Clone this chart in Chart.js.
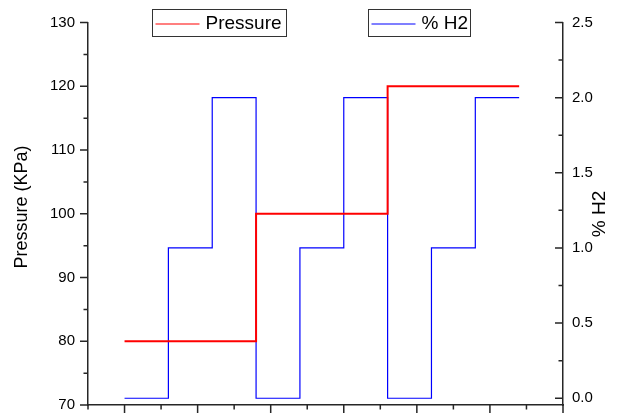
<!DOCTYPE html>
<html lang="en">
<head>
<meta charset="UTF-8">
<title>Pressure and % H2</title>
<script src="https://cdn.jsdelivr.net/npm/chart.js@4.4.1/dist/chart.umd.min.js"></script>
<style>
  html, body { margin: 0; padding: 0; background: #ffffff; }
  #wrap { width: 619px; height: 413px; }
</style>
<script>
  // H2 switching times and levels (step series)
  const times = [1.0, 1.6, 2.2, 2.8, 3.4, 4.0, 4.6, 5.2, 5.8, 6.4];
  const h2 = [0, 1, 2, 0, 1, 2, 0, 1, 2, 2];

  // pressure changes
  const pressureTimes = [1.0, 2.8, 4.6, 6.4];
  const pressure = [80, 100, 120, 120];

  // major and minor ticks of the three axes
  const xTicks = [1, 2, 3, 4, 5, 6, 7];
  const xMinor = [0.5, 1.5, 2.5, 3.5, 4.5, 5.5, 6.5];
  const pressureTicks = [70, 80, 90, 100, 110, 120, 130];
  const pressureMinor = [75, 85, 95, 105, 115, 125];
  const h2Ticks = [0, 0.5, 1.0, 1.5, 2.0, 2.5];
  const h2Minor = [0.25, 0.75, 1.25, 1.75, 2.25];

  const FONT = "'Liberation Sans', Arial, sans-serif";
  const AXIS_COLOR = '#262626';
  const MAJOR = 8;
  const MINOR = 4.5;

  // the y scales must not push the plot up for their end labels
  function fitY(width) {
    return s => {
      s.width = width;
      s.paddingTop = 0;
      s.paddingBottom = 0;
    };
  }

  // tick marks (left/bottom outward, right inward), axis titles and the framed legend
  const extras = {
    id: 'extras',
    afterDraw(chart) {
      const ctx = chart.ctx;
      const area = chart.chartArea;
      const sx = chart.scales.x;
      const sp = chart.scales.yP;
      const sh = chart.scales.yH;

      ctx.save();
      ctx.strokeStyle = AXIS_COLOR;
      ctx.lineWidth = 1.5;
      ctx.beginPath();
      const tickY = (scale, values, x0, x1) => values.forEach(v => {
        const py = scale.getPixelForValue(v);
        ctx.moveTo(x0, py);
        ctx.lineTo(x1, py);
      });
      tickY(sp, pressureTicks, area.left - MAJOR, area.left);
      tickY(sp, pressureMinor, area.left - MINOR, area.left);
      tickY(sh, h2Ticks, area.right - MAJOR, area.right);
      tickY(sh, h2Minor, area.right - MINOR, area.right);
      xTicks.forEach(v => {
        const px = sx.getPixelForValue(v);
        ctx.moveTo(px, area.bottom);
        ctx.lineTo(px, area.bottom + MAJOR);
      });
      xMinor.forEach(v => {
        const px = sx.getPixelForValue(v);
        ctx.moveTo(px, area.bottom);
        ctx.lineTo(px, area.bottom + MINOR);
      });
      ctx.stroke();

      // axis titles, both read bottom to top
      ctx.fillStyle = '#000';
      ctx.textAlign = 'center';
      ctx.textBaseline = 'middle';
      ctx.font = '18px ' + FONT;
      ctx.save();
      ctx.translate(22, 207);
      ctx.rotate(-Math.PI / 2);
      ctx.fillText('Pressure (KPa)', 0, 0);
      ctx.restore();
      ctx.save();
      ctx.font = '19px ' + FONT;
      ctx.translate(600, 214);
      ctx.rotate(-Math.PI / 2);
      ctx.fillText('% H2', 0, 0);
      ctx.restore();

      // legend: one framed box per series
      ctx.font = '19px ' + FONT;
      ctx.textAlign = 'left';
      chart.data.datasets.forEach((ds, i) => {
        const bx = i === 0 ? 152.5 : 368.5;
        const bw = i === 0 ? 134 : 102;
        ctx.lineWidth = 1;
        ctx.strokeStyle = '#333';
        ctx.strokeRect(bx, 9.5, bw, 27);
        ctx.strokeStyle = ds.borderColor;
        ctx.lineWidth = 1.2;
        ctx.beginPath();
        ctx.moveTo(bx + 3, 24);
        ctx.lineTo(bx + 47, 24);
        ctx.stroke();
        ctx.fillStyle = '#000';
        ctx.fillText(ds.label, bx + 53, 24);
      });
      ctx.restore();
    }
  };

  function drawChart() {
    const ctx = document.getElementById('chart').getContext('2d');
    new Chart(ctx, {
      type: 'line',
      data: {
        datasets: [{
          label: 'Pressure',
          data: pressureTimes.map((t, i) => ({ x: t, y: pressure[i] })),
          yAxisID: 'yP',
          borderColor: '#ff0000',
          borderWidth: 2,
          stepped: 'before',
          pointRadius: 0,
          fill: false
        }, {
          label: '% H2',
          data: times.map((t, i) => ({ x: t, y: h2[i] })),
          yAxisID: 'yH',
          borderColor: '#0000ff',
          borderWidth: 1.2,
          stepped: 'before',
          pointRadius: 0,
          fill: false
        }]
      },
      options: {
        responsive: false,
        animation: false,
        layout: { padding: { top: 22.5, left: 0, right: 0, bottom: 0 } },
        plugins: {
          legend: { display: false },
          tooltip: { enabled: false }
        },
        scales: {
          x: {
            type: 'linear',
            min: 0.5,
            max: 7,
            afterBuildTicks: s => { s.ticks = xTicks.map(v => ({ value: v })); },
            afterFit: s => { s.height = 8; },
            ticks: { display: false },
            grid: { display: false, drawTicks: false },
            border: { display: true, color: AXIS_COLOR, width: 1.5 }
          },
          yP: {
            position: 'left',
            min: 70,
            max: 130,
            afterBuildTicks: s => { s.ticks = pressureTicks.map(v => ({ value: v })); },
            afterFit: fitY(88),
            ticks: {
              padding: 13,
              color: '#000',
              font: { family: FONT, size: 15, lineHeight: 1 },
              callback: v => String(v)
            },
            grid: { display: false, drawTicks: false },
            border: { display: true, color: AXIS_COLOR, width: 1.5 }
          },
          yH: {
            position: 'right',
            min: -0.045,
            max: 2.5,
            afterBuildTicks: s => { s.ticks = h2Ticks.map(v => ({ value: v })); },
            afterFit: fitY(56),
            ticks: {
              padding: 9,
              color: '#000',
              font: { family: FONT, size: 15, lineHeight: 1 },
              callback: v => v.toFixed(1)
            },
            grid: { display: false, drawTicks: false },
            border: { display: true, color: AXIS_COLOR, width: 1.5 }
          }
        }
      },
      plugins: [extras]
    });
  }
</script>
</head>
<body onload="drawChart()">
  <div id="wrap"><canvas id="chart" width="619" height="413"></canvas></div>
</body>
</html>
